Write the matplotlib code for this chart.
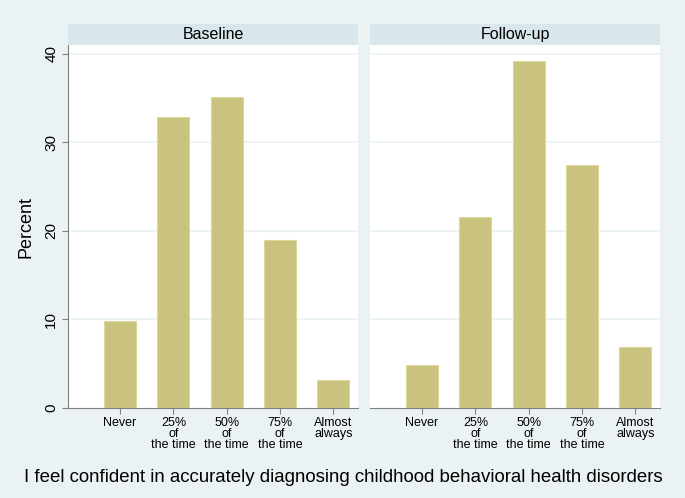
import numpy as np
import matplotlib.pyplot as plt

plt.rcParams['font.family'] = ['Liberation Sans', 'DejaVu Sans']

# data
categories = ['Never', '25%\nof\nthe time', '50%\nof\nthe time', '75%\nof\nthe time', 'Almost\nalways']
panels = ['Baseline', 'Follow-up']
baseline = [9.8, 32.9, 35.1, 19.0, 3.2]
followup = [4.9, 21.6, 39.2, 27.5, 6.9]
yticks = [0, 10, 20, 30, 40]

bg = '#eaf2f3'
strip = '#d9e6eb'
bar_col = '#c9c37f'

fig = plt.figure(figsize=(6.85, 4.98), dpi=100, facecolor=bg)
W, H = 685, 498

def px_axes(x0, y0, x1, y1):
    return fig.add_axes([x0 / W, 1 - y1 / H, (x1 - x0) / W, (y1 - y0) / H])

pos = np.arange(1, len(categories) + 1)
lefts = [68, 370]
for i, (name, vals) in enumerate(zip(panels, [baseline, followup])):
    x0 = lefts[i]
    ax = px_axes(x0, 45, x0 + 290, 408)
    ax.set_facecolor('white')
    ax.bar(pos, vals, width=0.6, color=bar_col, edgecolor='#dcd79b', linewidth=0.8, zorder=3)
    ax.set_xlim(0.025, 5.46)
    ax.set_ylim(0, 41)
    ax.set_yticks(yticks)
    for t in yticks[1:]:
        ax.axhline(t, color=bg, lw=1.2, zorder=1)
    ax.set_xticks(pos)
    ax.set_xticklabels(categories, fontsize=9, linespacing=0.86)
    for s in ['top', 'right']:
        ax.spines[s].set_visible(False)
    ax.spines['bottom'].set_color('#808080')
    ax.spines['left'].set_color('#808080')
    ax.tick_params(axis='x', length=4, color='#808080', pad=2.5)
    if i == 0:
        ax.set_yticklabels([str(t) for t in yticks], rotation=90, va='center', fontsize=11)
        ax.tick_params(axis='y', length=4, color='#808080', pad=3)
        ax.set_ylabel('Percent', fontsize=13, labelpad=7)
    else:
        ax.spines['left'].set_visible(False)
        ax.tick_params(axis='y', left=False, labelleft=False)
    # strip header
    sax = px_axes(x0, 24, x0 + 290, 45)
    sax.set_facecolor(strip)
    sax.set_xticks([])
    sax.set_yticks([])
    for s in sax.spines.values():
        s.set_visible(False)
    sax.text(0.5, 0.5, name, ha='center', va='center', fontsize=11.5, transform=sax.transAxes)

fig.text(343 / W, 1 - 478 / H,
         'I feel confident in accurately diagnosing childhood behavioral health disorders',
         ha='center', va='center', fontsize=13.4)

fig.savefig('out.png', dpi=100, facecolor=bg)
